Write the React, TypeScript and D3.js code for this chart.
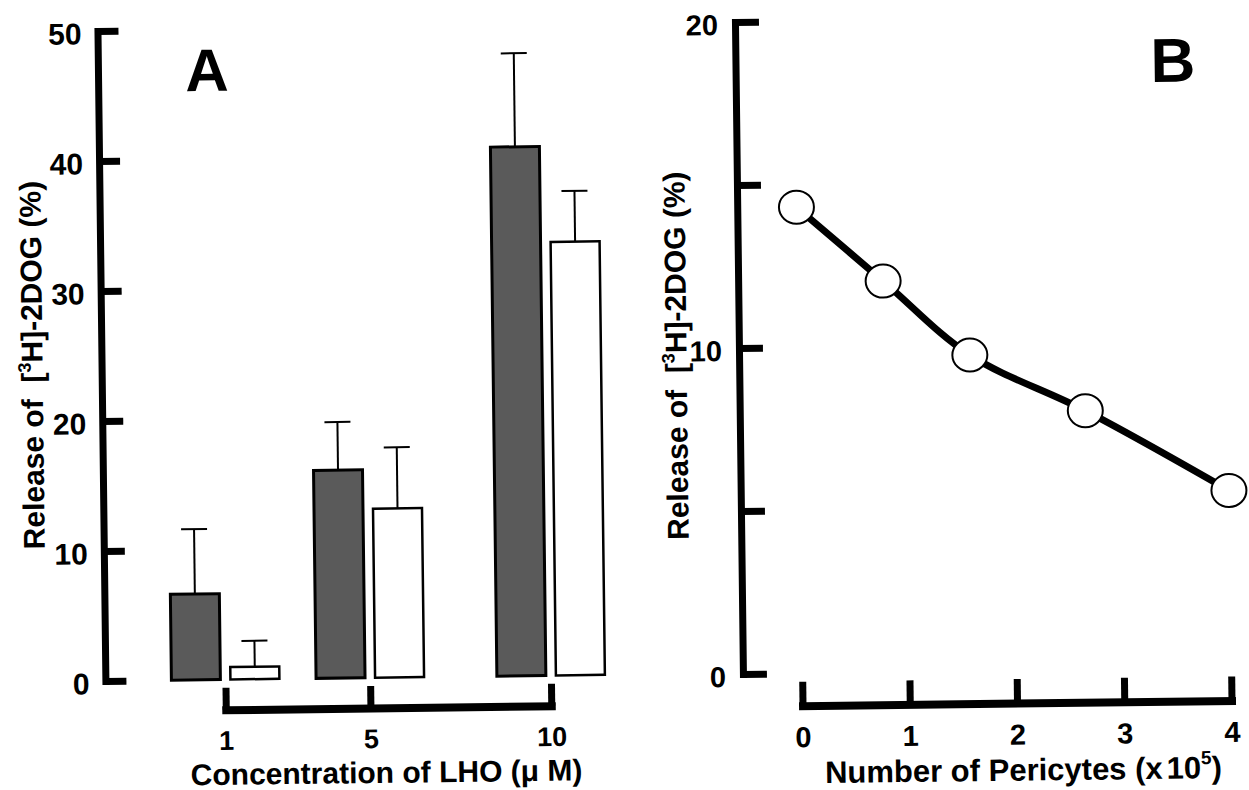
import React, { useEffect, useRef } from "react";
import * as d3 from "d3";

// Panel A: release at three LHO concentrations (filled and open bars)
const concentrations = [1, 5, 10];
const filledValues = [6.6, 16.0, 40.7];
const filledErrors = [5.0, 3.7, 7.2];
const openValues = [0.95, 13.0, 33.35];
const openErrors = [2.0, 4.7, 3.9];
const yTicksA = [0, 10, 20, 30, 40, 50];

// Panel B: release vs number of pericytes
const pericyteCounts = [0, 0.8, 1.6, 2.67, 4];
const releaseB = [14.3, 12.0, 9.7, 7.95, 5.45];
const xTicksB = [0, 1, 2, 3, 4];
const yTicksB = [0, 5, 10, 15, 20];
const yLabelsB = [0, 10, 20];

const FONT = "'Liberation Sans', Arial, Helvetica, sans-serif";
const WIDTH = 1249;
const HEIGHT = 790;

const addYTitle = (g, x, y) => {
  const t = g
    .append("text")
    .attr("transform", `translate(${x},${y}) rotate(-90)`)
    .attr("text-anchor", "middle")
    .attr("font-size", 30)
    .attr("font-weight", "bold")
    .style("white-space", "pre");
  t.append("tspan").text("Release of  [");
  t.append("tspan").attr("font-size", 18).attr("dy", -12).text("3");
  t.append("tspan").attr("dy", 12).text("H]-2DOG (%)");
};

// thick scanned-figure style for an axis group
const styleAxis = (g, domainWidth, tickWidth) => {
  g.attr("font-family", null).attr("font-size", null);
  g.select(".domain")
    .attr("stroke", "#000")
    .attr("stroke-width", domainWidth)
    .attr("stroke-linecap", "square");
  g.selectAll(".tick line").attr("stroke", "#000").attr("stroke-width", tickWidth);
  g.selectAll(".tick text").remove();
};

const styleLabels = (g, size) => {
  g.attr("font-family", null).attr("font-size", null);
  g.select(".domain").remove();
  g.selectAll(".tick line").remove();
  g.selectAll(".tick text")
    .attr("fill", "#000")
    .attr("font-size", size)
    .attr("font-weight", "bold");
};

const FigureChart = () => {
  const svgRef = useRef(null);

  useEffect(() => {
    const svg = d3.select(svgRef.current);
    svg.selectAll("*").remove();
    svg.attr("width", WIDTH).attr("height", HEIGHT).attr("font-family", FONT);

    svg.append("rect").attr("width", WIDTH).attr("height", HEIGHT).attr("fill", "#fff");

    // ---------- Panel A ----------
    const gA = svg.append("g").attr("transform", "rotate(-0.7 370 400)");
    const yA = d3.scaleLinear().domain([0, 50]).range([677.7, 27.7]);
    const xA = d3.scaleLinear().domain([1, 10]).range([222, 547.5]);
    const inner = d3.scaleBand().domain(["filled", "open"]).range([-54, 54]).paddingInner(0.17);
    const axisXA = 102;

    const yAxisA = gA
      .append("g")
      .attr("transform", `translate(${axisXA},0)`)
      .call(d3.axisRight(yA).tickValues(yTicksA).tickSize(21).tickSizeOuter(0));
    styleAxis(yAxisA, 7, 7);

    const yLabA = gA
      .append("g")
      .attr("transform", `translate(${axisXA},3)`)
      .call(d3.axisLeft(yA).tickValues(yTicksA).tickSize(0).tickPadding(16));
    styleLabels(yLabA, 30);

    const xAxisA = gA
      .append("g")
      .attr("transform", "translate(0,708)")
      .call(d3.axisTop(xA).tickValues(concentrations).tickSize(22).tickSizeOuter(0));
    styleAxis(xAxisA, 8, 7);

    const xLabA = gA
      .append("g")
      .attr("transform", "translate(0,708)")
      .call(d3.axisBottom(xA).tickValues(concentrations).tickSize(0).tickPadding(21));
    styleLabels(xLabA, 27);

    const series = [
      { key: "filled", values: filledValues, errors: filledErrors, fill: "#5a5a5a", sw: 3 },
      { key: "open", values: openValues, errors: openErrors, fill: "#fff", sw: 2.5 },
    ];

    series.forEach((s) => {
      concentrations.forEach((c, i) => {
        const x0 = xA(c) + inner(s.key);
        const bw = inner.bandwidth();
        const cx = x0 + bw / 2;
        const top = yA(s.values[i]);
        const errTop = yA(s.values[i] + s.errors[i]);

        gA.append("line")
          .attr("x1", cx).attr("x2", cx)
          .attr("y1", top).attr("y2", errTop)
          .attr("stroke", "#000").attr("stroke-width", 2);
        gA.append("line")
          .attr("x1", cx - 13).attr("x2", cx + 13)
          .attr("y1", errTop).attr("y2", errTop)
          .attr("stroke", "#000").attr("stroke-width", 2);

        gA.append("rect")
          .attr("x", x0)
          .attr("y", top)
          .attr("width", bw)
          .attr("height", yA(0) - top)
          .attr("fill", s.fill)
          .attr("stroke", "#000")
          .attr("stroke-width", s.sw);
      });
    });

    gA.append("text")
      .attr("x", 211).attr("y", 89)
      .attr("text-anchor", "middle")
      .attr("font-size", 60).attr("font-weight", "bold")
      .text("A");

    gA.append("text")
      .attr("x", 382).attr("y", 783)
      .attr("text-anchor", "middle")
      .attr("font-size", 30).attr("font-weight", "bold")
      .style("white-space", "pre")
      .text("Concentration of LHO (\u03bc M)");

    addYTitle(gA, 43, 361);

    // ---------- Panel B ----------
    const gB = svg.append("g").attr("transform", "rotate(-0.7 980 400)");
    const yB = d3.scaleLinear().domain([0, 20]).range([671.1, 19.1]);
    const xB = d3.scaleLinear().domain([0, 4]).range([798.8, 1227.8]);
    const axisXB = 739.6;

    const yAxisB = gB
      .append("g")
      .attr("transform", `translate(${axisXB},0)`)
      .call(d3.axisRight(yB).tickValues(yTicksB).tickSize(24).tickSizeOuter(0));
    styleAxis(yAxisB, 7, 7);

    const yLabB = gB
      .append("g")
      .attr("transform", `translate(${axisXB},3)`)
      .call(d3.axisLeft(yB).tickValues(yLabelsB).tickSize(0).tickPadding(17));
    styleLabels(yLabB, 29);

    const xAxisB = gB
      .append("g")
      .attr("transform", "translate(0,703.5)")
      .call(d3.axisTop(xB).tickValues(xTicksB).tickSize(24).tickSizeOuter(0));
    styleAxis(xAxisB, 8, 7);

    const xLabB = gB
      .append("g")
      .attr("transform", "translate(0,703.5)")
      .call(
        d3.axisBottom(xB).tickValues(xTicksB).tickFormat(d3.format("d")).tickSize(0).tickPadding(21)
      );
    styleLabels(xLabB, 29);

    const points = pericyteCounts.map((c, i) => ({ x: c, y: releaseB[i] }));
    const line = d3
      .line()
      .x((d) => xB(d.x))
      .y((d) => yB(d.y))
      .curve(d3.curveCatmullRom.alpha(0.5));

    gB.append("path")
      .datum(points)
      .attr("d", line)
      .attr("fill", "none")
      .attr("stroke", "#000")
      .attr("stroke-width", 7);

    gB.selectAll(".pt")
      .data(points)
      .enter()
      .append("ellipse")
      .attr("cx", (d) => xB(d.x))
      .attr("cy", (d) => yB(d.y))
      .attr("rx", 17.5)
      .attr("ry", 16.5)
      .attr("fill", "#fff")
      .attr("stroke", "#000")
      .attr("stroke-width", 2);

    gB.append("text")
      .attr("x", 1177).attr("y", 84)
      .attr("text-anchor", "middle")
      .attr("font-size", 62).attr("font-weight", "bold")
      .text("B");

    const xt = gB
      .append("text")
      .attr("x", 1019).attr("y", 781)
      .attr("text-anchor", "middle")
      .attr("font-size", 31).attr("font-weight", "bold")
      .style("white-space", "pre");
    xt.append("tspan").text("Number of Pericytes (x");
    xt.append("tspan").attr("dx", 4).text("10");
    xt.append("tspan").attr("font-size", 19).attr("dy", -14).text("5");
    xt.append("tspan").attr("dy", 14).text(")");

    addYTitle(gB, 687, 352);
  }, []);

  return (
    <div style={{ position: "absolute", left: 0, top: 0 }}>
      <svg ref={svgRef}></svg>
    </div>
  );
};

export default function App() {
  return <FigureChart />;
}
